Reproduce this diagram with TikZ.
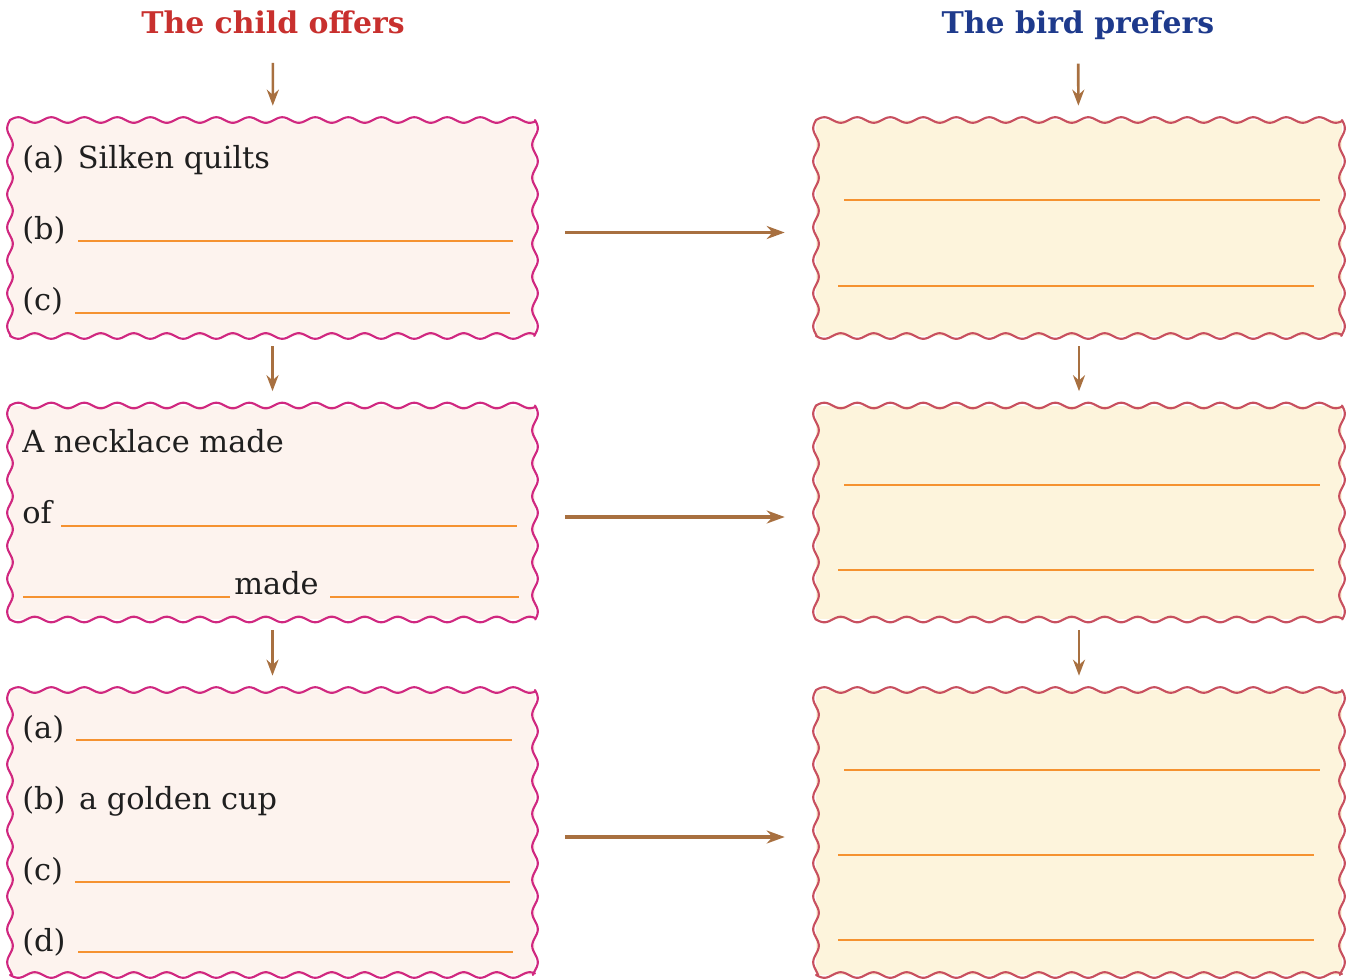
\documentclass[tikz,border=0pt]{standalone}
\usepackage{fontspec}
\setmainfont{DejaVu Serif}
\usetikzlibrary{arrows.meta}

\definecolor{childred}{RGB}{200,48,46}
\definecolor{birdblue}{RGB}{30,58,140}
\definecolor{arrowbrown}{RGB}{168,112,64}
\definecolor{cborder}{RGB}{208,40,128}
\definecolor{bborder}{RGB}{200,80,95}
\definecolor{cfill}{RGB}{253,243,238}
\definecolor{bfill}{RGB}{253,244,220}
\definecolor{lineorange}{RGB}{245,146,48}

\tikzset{
    head/.style={font=\bfseries\fontsize{17}{20}\selectfont, inner sep=0pt, anchor=base},
    txt/.style={font=\fontsize{17.3}{21}\selectfont, inner sep=0pt, text=black!88, anchor=base west},
    cbox/.style={fill=cfill, minimum width=10.5cm, inner sep=0pt},
    bbox/.style={fill=bfill, minimum width=10.52cm, inner sep=0pt},
    wavy/.style={line width=1.2pt, line cap=round, line join=round},
    blank/.style={draw=lineorange, line width=1.1pt},
    harr/.style={-{Stealth[length=0.36cm,width=0.26cm]}, draw=arrowbrown, line width=1.8pt,
        shorten <=0.6cm, shorten >=0.62cm},
    varr/.style={-{Stealth[length=0.32cm,width=0.24cm]}, draw=arrowbrown, line width=1.5pt},
}

%% wavy frame: x0, y0, x1, y1 (px), colour
\newcommand{\wavyframe}[5]{%
    \draw[wavy,draw=#5] plot[domain=#1:#3, samples=240, smooth] (\x,{#2-2.8*sin((\x-#1)/33*360)});
    \draw[wavy,draw=#5] plot[domain=#1:#3, samples=240, smooth] (\x,{#4+2.8*sin((\x-#1)/33*360)});
    \draw[wavy,draw=#5] plot[domain=#2:#4, samples=160, smooth] ({#1-2.8*sin((\x-#2)/33*360)},\x);
    \draw[wavy,draw=#5] plot[domain=#2:#4, samples=160, smooth] ({#3+2.8*sin((\x-#2)/33*360)},\x);}

\begin{document}
\begin{tikzpicture}[x=0.02cm,y=-0.02cm]
        \useasboundingbox (0,0) rectangle (1352,978);
        %% headings
        \node[head, text=childred] (hc) at (273,33) {The child offers};
        \node[head, text=birdblue] (hb) at (1078,33) {The bird prefers};
        %% boxes
        \node[cbox, minimum height=4.32cm] (c1) at (272.5,228) {};
        \node[cbox, minimum height=4.28cm] (c2) at (272.5,512.5) {};
        \node[cbox, minimum height=5.7cm] (c3) at (272.5,832.5) {};
        \node[bbox, minimum height=4.32cm] (b1) at (1079,228) {};
        \node[bbox, minimum height=4.28cm] (b2) at (1079,512.5) {};
        \node[bbox, minimum height=5.7cm] (b3) at (1079,832.5) {};
        \wavyframe{10}{120}{535}{336}{cborder}
        \wavyframe{10}{405.5}{535}{619.5}{cborder}
        \wavyframe{10}{690}{535}{975}{cborder}
        \wavyframe{816}{120}{1342}{336}{bborder}
        \wavyframe{816}{405.5}{1342}{619.5}{bborder}
        \wavyframe{816}{690}{1342}{975}{bborder}
        %% first box
        \node[txt] (ca1) at (22,168) {(a)\hspace{0.45em}Silken quilts};
        \node[txt] (cb1) at (22,239) {(b)};
        \node[txt] (cc1) at (22,310) {(c)};
        \draw[blank] (78,241) -- (513,241);
        \draw[blank] (75,313) -- (510,313);
        %% second box
        \node[txt] (cn) at (22,452) {A necklace made};
        \node[txt] (co) at (22,523) {of};
        \node[txt] (cm) at (234,594) {made};
        \draw[blank] (61,526) -- (517,526);
        \draw[blank] (23,597) -- (230,597);
        \draw[blank] (330,597) -- (519,597);
        %% third box
        \node[txt] (ca3) at (22,738) {(a)};
        \node[txt] (cb3) at (22,809) {(b)\hspace{0.45em}a golden cup};
        \node[txt] (cc3) at (22,880) {(c)};
        \node[txt] (cd3) at (22,951) {(d)};
        \draw[blank] (76,740) -- (512,740);
        \draw[blank] (75,882) -- (510,882);
        \draw[blank] (78,952) -- (513,952);
        %% bird side
        \foreach \y in {200,485,770} {
            \draw[blank] (844,\y) -- (1320,\y);
        }
        \foreach \y in {286,570,855,940} {
            \draw[blank] (838,\y) -- (1314,\y);
        }
        %% arrows
        \draw[varr, shorten <=0.58cm, shorten >=0.28cm] (hc) -- (c1);
        \draw[varr, shorten <=0.48cm, shorten >=0.28cm] (hb) -- (b1);
        \draw[varr, shorten <=0.2cm, shorten >=0.28cm] (c1) -- (c2);
        \draw[varr, shorten <=0.2cm, shorten >=0.28cm] (c2) -- (c3);
        \draw[varr, shorten <=0.2cm, shorten >=0.28cm] (b1) -- (b2);
        \draw[varr, shorten <=0.2cm, shorten >=0.28cm] (b2) -- (b3);
        \foreach \n in {1,2,3} {
            \draw[harr] ([yshift=-0.09cm]c\n.east) -- ([yshift=-0.09cm]b\n.west);
        }
    \end{tikzpicture}
\end{document}
